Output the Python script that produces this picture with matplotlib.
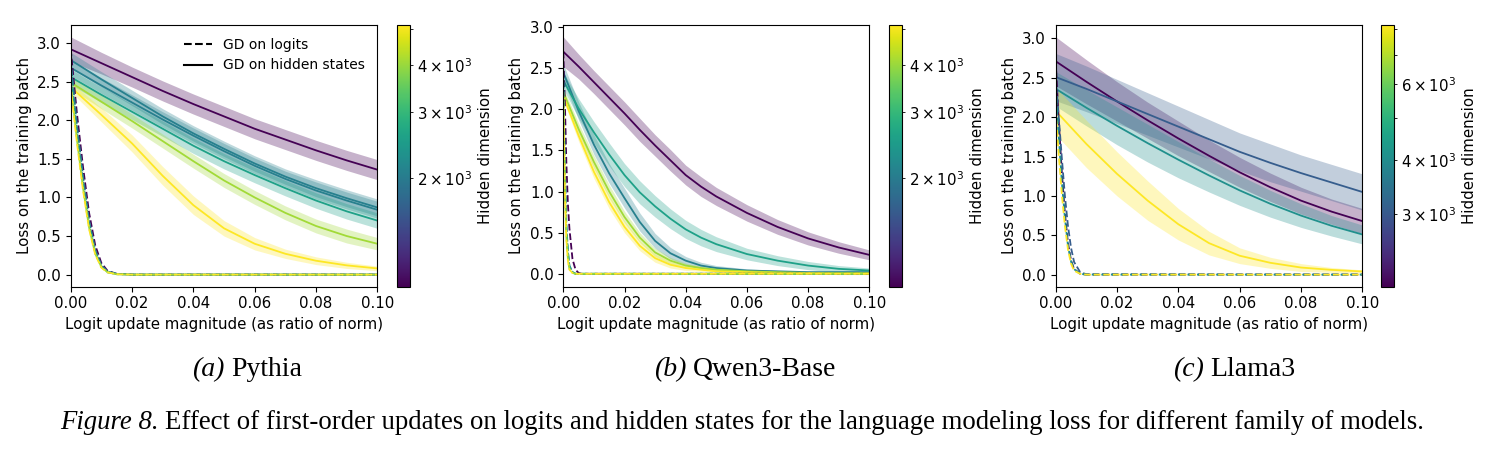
import matplotlib
matplotlib.use("Agg")
import matplotlib.pyplot as plt
from matplotlib.colors import LogNorm
from matplotlib.cm import ScalarMappable
from matplotlib.lines import Line2D

W, H = 1492, 449

# x positions (logit update magnitude) for the hidden-state curves
x_grid = [0.0, 0.01, 0.02, 0.03, 0.04, 0.05, 0.06, 0.07, 0.08, 0.09, 0.10]
x_grid_fine = [0.0, 0.005, 0.01, 0.015, 0.02, 0.025, 0.03, 0.035, 0.04, 0.045,
               0.05, 0.06, 0.07, 0.08, 0.09, 0.10]

# ---------------- Pythia ----------------
pythia_dims = [1024, 2048, 2048, 2560, 4096, 5120]
pythia_hidden = [
    [2.92, 2.74, 2.56, 2.38, 2.21, 2.05, 1.89, 1.75, 1.61, 1.48, 1.36],
    [2.78, 2.53, 2.29, 2.05, 1.83, 1.63, 1.44, 1.27, 1.12, 0.99, 0.87],
    [2.68, 2.45, 2.23, 2.01, 1.80, 1.60, 1.41, 1.24, 1.09, 0.96, 0.84],
    [2.56, 2.33, 2.11, 1.89, 1.67, 1.47, 1.29, 1.12, 0.96, 0.82, 0.70],
    [2.49, 2.24, 1.99, 1.73, 1.47, 1.22, 1.00, 0.80, 0.63, 0.50, 0.40],
    [2.43, 2.07, 1.70, 1.28, 0.90, 0.60, 0.40, 0.27, 0.18, 0.12, 0.08],
]
pythia_hidden_std = [
    [0.16, 0.14, 0.13, 0.13, 0.13, 0.13, 0.13, 0.13, 0.13, 0.13, 0.13],
    [0.10, 0.10, 0.10, 0.10, 0.10, 0.10, 0.10, 0.10, 0.11, 0.11, 0.11],
    [0.10, 0.10, 0.10, 0.10, 0.10, 0.10, 0.10, 0.10, 0.11, 0.11, 0.11],
    [0.10, 0.10, 0.10, 0.10, 0.10, 0.10, 0.10, 0.10, 0.10, 0.10, 0.10],
    [0.08, 0.09, 0.09, 0.09, 0.09, 0.09, 0.09, 0.09, 0.09, 0.09, 0.08],
    [0.06, 0.09, 0.11, 0.12, 0.12, 0.10, 0.08, 0.06, 0.05, 0.04, 0.03],
]
pythia_x_logits = [0.0, 0.002, 0.004, 0.006, 0.008, 0.010, 0.012, 0.015, 0.02, 0.10]
pythia_logits = [
    [2.92, 2.10, 1.40, 0.80, 0.38, 0.15, 0.05, 0.010, 0.0, 0.0],
    [2.78, 1.95, 1.28, 0.70, 0.32, 0.12, 0.04, 0.010, 0.0, 0.0],
    [2.68, 1.88, 1.22, 0.66, 0.30, 0.11, 0.04, 0.010, 0.0, 0.0],
    [2.56, 1.80, 1.16, 0.63, 0.28, 0.10, 0.03, 0.005, 0.0, 0.0],
    [2.49, 1.76, 1.13, 0.61, 0.27, 0.10, 0.03, 0.005, 0.0, 0.0],
    [2.43, 1.72, 1.10, 0.59, 0.26, 0.09, 0.03, 0.005, 0.0, 0.0],
]

# ---------------- Qwen3-Base (finer x grid) ----------------
qwen_dims = [1024, 2048, 2560, 4096, 5120]
qwen_hidden = [
    [2.70, 2.52, 2.33, 2.14, 1.95, 1.75, 1.56, 1.38, 1.20, 1.06, 0.94, 0.74, 0.57, 0.43, 0.32, 0.23],
    [2.45, 1.98, 1.57, 1.22, 0.92, 0.63, 0.40, 0.25, 0.16, 0.10, 0.07, 0.04, 0.03, 0.02, 0.02, 0.02],
    [2.35, 2.01, 1.72, 1.45, 1.20, 0.99, 0.82, 0.67, 0.54, 0.44, 0.36, 0.24, 0.16, 0.10, 0.06, 0.04],
    [2.21, 1.76, 1.36, 1.00, 0.69, 0.44, 0.26, 0.16, 0.10, 0.07, 0.05, 0.03, 0.02, 0.01, 0.01, 0.01],
    [2.16, 1.68, 1.24, 0.87, 0.57, 0.34, 0.19, 0.11, 0.07, 0.05, 0.03, 0.02, 0.01, 0.01, 0.00, 0.00],
]
qwen_hidden_std = [
    [0.18, 0.15, 0.14, 0.14, 0.14, 0.14, 0.13, 0.13, 0.12, 0.12, 0.11, 0.10, 0.09, 0.08, 0.07, 0.06],
    [0.10, 0.11, 0.12, 0.12, 0.12, 0.11, 0.09, 0.07, 0.05, 0.04, 0.03, 0.02, 0.01, 0.01, 0.01, 0.01],
    [0.10, 0.12, 0.13, 0.14, 0.14, 0.14, 0.13, 0.12, 0.11, 0.10, 0.09, 0.07, 0.06, 0.05, 0.04, 0.03],
    [0.05, 0.07, 0.08, 0.08, 0.07, 0.06, 0.05, 0.04, 0.03, 0.02, 0.02, 0.01, 0.01, 0.01, 0.01, 0.01],
    [0.05, 0.07, 0.08, 0.08, 0.07, 0.06, 0.05, 0.04, 0.03, 0.02, 0.02, 0.01, 0.01, 0.01, 0.01, 0.01],
]
qwen_x_logits = [0.0, 0.0005, 0.001, 0.0015, 0.002, 0.003, 0.004, 0.005, 0.006, 0.10]
qwen_logits = [
    [2.70, 2.10, 1.35, 0.85, 0.55, 0.18, 0.05, 0.01, 0.0, 0.0],
    [2.45, 1.30, 0.60, 0.28, 0.10, 0.02, 0.0, 0.0, 0.0, 0.0],
    [2.35, 1.25, 0.58, 0.26, 0.09, 0.02, 0.0, 0.0, 0.0, 0.0],
    [2.21, 1.05, 0.45, 0.18, 0.06, 0.01, 0.0, 0.0, 0.0, 0.0],
    [2.16, 1.00, 0.42, 0.16, 0.05, 0.01, 0.0, 0.0, 0.0, 0.0],
]

# ---------------- Llama3 ----------------
llama_dims = [2048, 3072, 4096, 8192]
llama_hidden = [
    [2.71, 2.45, 2.20, 1.96, 1.73, 1.51, 1.30, 1.11, 0.94, 0.80, 0.68],
    [2.51, 2.36, 2.20, 2.04, 1.88, 1.72, 1.56, 1.42, 1.29, 1.17, 1.05],
    [2.36, 2.12, 1.89, 1.67, 1.46, 1.26, 1.07, 0.90, 0.75, 0.62, 0.51],
    [2.08, 1.66, 1.28, 0.94, 0.64, 0.40, 0.24, 0.15, 0.09, 0.06, 0.04],
]
llama_hidden_std = [
    [0.31, 0.28, 0.25, 0.23, 0.22, 0.20, 0.19, 0.18, 0.17, 0.16, 0.16],
    [0.30, 0.29, 0.28, 0.27, 0.26, 0.25, 0.24, 0.24, 0.23, 0.23, 0.23],
    [0.22, 0.23, 0.24, 0.24, 0.23, 0.21, 0.19, 0.17, 0.15, 0.13, 0.12],
    [0.30, 0.30, 0.28, 0.25, 0.20, 0.15, 0.10, 0.07, 0.05, 0.03, 0.02],
]
llama_x_logits = [0.0, 0.001, 0.002, 0.003, 0.004, 0.005, 0.006, 0.008, 0.010, 0.10]
llama_logits = [
    [2.71, 1.95, 1.30, 0.78, 0.40, 0.18, 0.07, 0.01, 0.0, 0.0],
    [2.51, 2.00, 1.48, 1.00, 0.62, 0.34, 0.16, 0.03, 0.005, 0.0],
    [2.36, 1.75, 1.18, 0.72, 0.37, 0.17, 0.07, 0.01, 0.0, 0.0],
    [2.08, 1.52, 1.02, 0.62, 0.32, 0.14, 0.05, 0.01, 0.0, 0.0],
]

captions = [("(a)", "Pythia"), ("(b)", "Qwen3-Base"), ("(c)", "Llama3")]
caption_centers = [247, 745, 1234]
figure_caption = ("Figure 8.", "Effect of first-order updates on logits and hidden states "
                  "for the language modeling loss for different family of models.")

# panel geometry in pixels: axes left/right, colorbar left
axes_px = [(70.7, 377.3, 396.7), (563.3, 869.3, 889.0), (1055.7, 1362.3, 1381.0)]
ax_top, ax_bottom = 25, 286.5

plt.rcParams['font.size'] = 10.8
fig = plt.figure(figsize=(W / 100, H / 100), dpi=100)

panels = [
    (pythia_dims, x_grid, pythia_hidden, pythia_hidden_std, pythia_x_logits, pythia_logits),
    (qwen_dims, x_grid_fine, qwen_hidden, qwen_hidden_std, qwen_x_logits, qwen_logits),
    (llama_dims, x_grid, llama_hidden, llama_hidden_std, llama_x_logits, llama_logits),
]

for i, (dims, xs, hidden, hidden_std, x_log, logits) in enumerate(panels):
    left, right, cleft = axes_px[i]
    ax = fig.add_axes([left / W, 1 - ax_bottom / H, (right - left) / W, (ax_bottom - ax_top) / H])
    cax = fig.add_axes([cleft / W, 1 - ax_bottom / H, 12.8 / W, (ax_bottom - ax_top) / H])

    norm = LogNorm(vmin=min(dims), vmax=max(dims))
    cmap = plt.get_cmap('viridis')

    for d, ys, sd in zip(dims, hidden, hidden_std):
        c = cmap(norm(d))
        lo = [y - s for y, s in zip(ys, sd)]
        hi = [y + s for y, s in zip(ys, sd)]
        ax.fill_between(xs, lo, hi, color=c, alpha=0.3, linewidth=0)
        ax.plot(xs, ys, color=c, lw=1.3)
    for d, ys in zip(dims, logits):
        ax.plot(x_log, ys, color=cmap(norm(d)), lw=1.3, ls='--')

    ax.set_xlim(0, 0.1)
    ax.set_xticks([0.0, 0.02, 0.04, 0.06, 0.08, 0.10])
    ax.set_xlabel("Logit update magnitude (as ratio of norm)")
    ax.set_ylabel("Loss on the training batch")

    sm = ScalarMappable(norm=norm, cmap=cmap)
    cb = fig.colorbar(sm, cax=cax)
    cb.set_label("Hidden dimension")

    if i == 0:
        handles = [Line2D([], [], color='black', ls='--', lw=1.5),
                   Line2D([], [], color='black', ls='-', lw=1.5)]
        ax.legend(handles, ["GD on logits", "GD on hidden states"],
                  loc='upper right', frameon=False, fontsize=10)

# captions below each panel and the figure caption
renderer = fig.canvas.get_renderer()


def two_part_text(xc, y_base, first, rest, size, center=True):
    t1 = fig.text(0, y_base, first, fontsize=size, family='Liberation Serif',
                  style='italic', va='baseline')
    t2 = fig.text(0, y_base, rest, fontsize=size, family='Liberation Serif', va='baseline')
    w1 = t1.get_window_extent(renderer).width
    w2 = t2.get_window_extent(renderer).width
    gap = size * 0.25 * 100 / 72
    start = xc - (w1 + gap + w2) / 2 if center else xc
    t1.set_x(start / W)
    t2.set_x((start + w1 + gap) / W)


for (a, name), xc in zip(captions, caption_centers):
    two_part_text(xc, 1 - 376 / H, a, name, 20)

two_part_text(60, 1 - 429 / H, figure_caption[0], figure_caption[1], 19.3, center=False)

fig.savefig("out.png", dpi=100)
